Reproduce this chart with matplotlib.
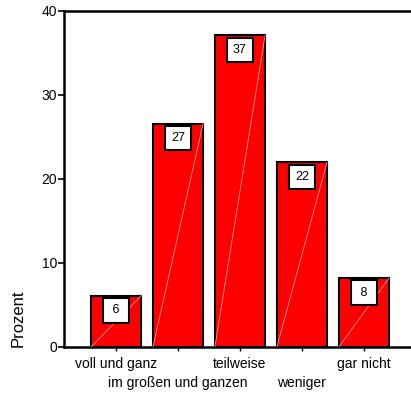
import numpy as np
import matplotlib.pyplot as plt

plt.rcParams['font.family'] = ['Liberation Sans', 'DejaVu Sans']

categories = ["voll und ganz", "im großen und ganzen", "teilweise", "weniger", "gar nicht"]
percent = [6.1, 26.6, 37.1, 22.0, 8.2]

fig = plt.figure(figsize=(4.11, 3.96), dpi=100)
ax = fig.add_axes([64 / 411, 49 / 396, 347 / 411, 336 / 396])

x = np.arange(len(categories))
width = 0.81
bars = ax.bar(x, percent, width=width, color="#ff0000", edgecolor="black", linewidth=1.5, zorder=2)

# faint diagonal inside each bar
for xi, v in zip(x, percent):
    ax.plot([xi - width / 2, xi + width / 2], [0, v], color="#ff9a9a", lw=0.6, zorder=3)

# value boxes just under the bar tops
for xi, v in zip(x, percent):
    label = "%d" % round(v)
    if len(label) == 1:
        label = " " + label + " "
    ax.annotate(label, xy=(xi, v), xytext=(0, -10.5), textcoords="offset points",
                ha="center", va="center", fontsize=9, zorder=4,
                bbox=dict(boxstyle="square,pad=0.5", fc="white", ec="black", lw=1.5))

ax.set_xlim(-0.84, 4.76)
ax.set_ylim(0, 40)
ax.set_yticks([0, 10, 20, 30, 40])
ax.set_xticks(x)
ax.set_xticklabels([])
for i, name in enumerate(categories):
    y = -0.05 if i % 2 == 0 else -0.107
    ax.text(i, y, name, transform=ax.get_xaxis_transform(), ha="center", va="center", fontsize=10)

ax.spines["right"].set_visible(False)
for s in ["left", "top", "bottom"]:
    ax.spines[s].set_linewidth(1.8)
ax.tick_params(axis="y", direction="out", length=4, width=1.2, labelsize=10, pad=1)
ax.tick_params(axis="x", direction="out", length=3, width=1.0)

fig.text(18 / 411, 49 / 396, "Prozent", rotation=90, ha="center", va="bottom", fontsize=12)

fig.savefig("out.png", dpi=100)
